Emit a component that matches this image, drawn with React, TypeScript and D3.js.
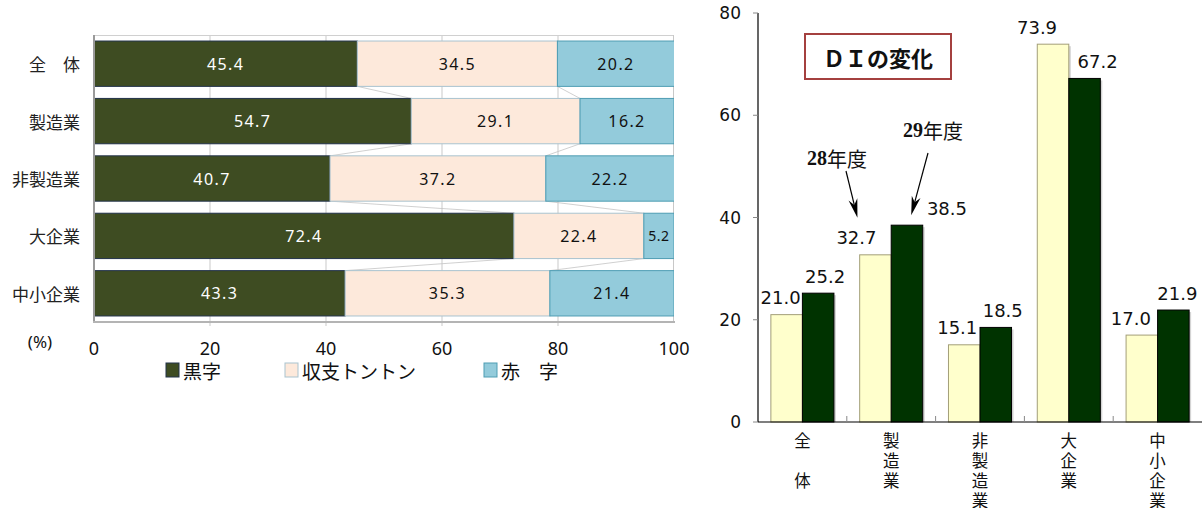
import React from "react";
import * as d3 from "d3";

// Profit / loss composition (%) by category
const categories = ["全　体", "製造業", "非製造業", "大企業", "中小企業"];
const profit = [45.4, 54.7, 40.7, 72.4, 43.3];
const breakeven = [34.5, 29.1, 37.2, 22.4, 35.3];
const loss = [20.2, 16.2, 22.2, 5.2, 21.4];
const segmentNames = ["黒字", "収支トントン", "赤　字"];
const pctTicks = [0, 20, 40, 60, 80, 100];

// DI by category, two fiscal years
const diCategories = ["全　体", "製造業", "非製造業", "大企業", "中小企業"];
const diYears = ["28年度", "29年度"];
const di28 = [21.0, 32.7, 15.1, 73.9, 17.0];
const di29 = [25.2, 38.5, 18.5, 67.2, 21.9];
const diTicks = [0, 20, 40, 60, 80];

const W = 1202;
const H = 508;
const CJK = "'Noto Sans CJK JP', 'Noto Sans', sans-serif";
const NUM = "'DejaVu Sans', Verdana, sans-serif";

const segFill = ["#3e4c22", "#fde9db", "#93cbdb"];
const segStroke = ["#22324a", "#a9c3cf", "#4e9db3"];
const segText = ["#ffffff", "#111111", "#111111"];

// horizontal nudges for DI value labels (light / dark bars)
const nudge28 = [-6, -19, -7, -16, -11];
const nudge29 = [7, 40, 7, 13, 4];

function StackedBars() {
  const x = d3.scaleLinear().domain([0, 100]).range([94, 674]);
  const y = d3
    .scaleBand<string>()
    .domain(categories)
    .range([35, 322])
    .paddingInner(0.21)
    .paddingOuter(0.105);
  const rows = categories.map((c, i) => ({
    cat: c,
    s0: profit[i],
    s1: breakeven[i],
    s2: loss[i],
  }));
  const stack = d3.stack<any>().keys(["s0", "s1", "s2"]);
  const series = stack(rows);
  const bw = y.bandwidth();

  // connector lines between neighbouring bars
  const connectors: { x1: number; y1: number; x2: number; y2: number }[] = [];
  for (let k = 0; k < 2; k++) {
    for (let i = 0; i < rows.length - 1; i++) {
      const a = series[k][i][1];
      const b = series[k][i + 1][1];
      connectors.push({
        x1: x(a),
        y1: (y(rows[i].cat) as number) + bw,
        x2: x(b),
        y2: y(rows[i + 1].cat) as number,
      });
    }
  }

  return (
    <g>
      <defs>
        <clipPath id="plotClip">
          <rect x={94} y={35} width={580} height={287} />
        </clipPath>
      </defs>
      {/* grid */}
      {pctTicks.slice(1, -1).map((t) => (
        <line key={t} x1={x(t)} x2={x(t)} y1={35} y2={326} stroke="#c9c9c9" strokeWidth={1} />
      ))}
      <line x1={94} x2={674} y1={35.5} y2={35.5} stroke="#d0d0d0" />
      <line x1={673.5} x2={673.5} y1={35} y2={322} stroke="#c8c8c8" />
      {connectors.map((c, i) => (
        <line key={i} x1={c.x1} y1={c.y1} x2={c.x2} y2={c.y2} stroke="#c4c4c4" strokeWidth={0.8} />
      ))}
      <g clipPath="url(#plotClip)">
        {series.map((s, k) =>
          s.map((d, i) => (
            <rect
              key={k + "-" + i}
              x={x(d[0])}
              y={y(rows[i].cat)}
              width={x(d[1]) - x(d[0])}
              height={bw}
              fill={segFill[k]}
              stroke={segStroke[k]}
              strokeWidth={1}
            />
          ))
        )}
      </g>
      {series.map((s, k) =>
        s.map((d, i) => (
          <text
            key={"t" + k + "-" + i}
            x={Math.min((x(d[0]) + x(d[1])) / 2, 663)}
            y={(y(rows[i].cat) as number) + bw / 2}
            textAnchor="middle"
            dominantBaseline="central"
            fontFamily="'Noto Sans', sans-serif"
            fontSize={k === 2 && d[1] - d[0] < 8 ? 14 : 16}
            letterSpacing={k === 2 && d[1] - d[0] < 8 ? 0.5 : 1.4}
            fill={segText[k]}
          >
            {(d[1] - d[0]).toFixed(1)}
          </text>
        ))
      )}
      <line x1={94} x2={94} y1={35} y2={323} stroke="#9a9a9a" strokeWidth={2} />
      <line x1={93} x2={675} y1={322} y2={322} stroke="#b4b4b4" strokeWidth={2} />
      {/* category labels */}
      {categories.map((c) => (
        <text
          key={c}
          x={80}
          y={(y(c) as number) + bw / 2}
          textAnchor="end"
          dominantBaseline="central"
          fontFamily={CJK}
          fontSize={17}
          fill="#222"
        >
          {c}
        </text>
      ))}
      {/* x tick labels */}
      {pctTicks.map((t) => (
        <text
          key={t}
          x={x(t)}
          y={348}
          textAnchor="middle"
          dominantBaseline="central"
          fontFamily="'Noto Sans', sans-serif"
          fontSize={18}
          fill="#111"
        >
          {t}
        </text>
      ))}
      <text x={40} y={341} textAnchor="middle" dominantBaseline="central" fontFamily="'Noto Sans', sans-serif" fontSize={17} fill="#111">
        (%)
      </text>
      {/* legend */}
      {segmentNames.map((n, k) => {
        const lx = [166, 285, 484][k];
        return (
          <g key={n}>
            <rect x={lx} y={363} width={13} height={14} fill={segFill[k]} stroke={segStroke[k]} />
            <text x={lx + 17} y={370} dominantBaseline="central" fontFamily={CJK} fontSize={19} fill="#111">
              {n}
            </text>
          </g>
        );
      })}
    </g>
  );
}

function Arrow({ x1, y1, x2, y2 }: { x1: number; y1: number; x2: number; y2: number }) {
  const ang = Math.atan2(y2 - y1, x2 - x1);
  const len = 19;
  const half = 4.5;
  const bx = x2 - len * Math.cos(ang);
  const by = y2 - len * Math.sin(ang);
  const px = -Math.sin(ang) * half;
  const py = Math.cos(ang) * half;
  const notchX = x2 - len * 0.7 * Math.cos(ang);
  const notchY = y2 - len * 0.7 * Math.sin(ang);
  return (
    <g>
      <line x1={x1} y1={y1} x2={notchX} y2={notchY} stroke="#000" strokeWidth={1.2} />
      <path d={`M${x2},${y2} L${bx + px},${by + py} L${notchX},${notchY} L${bx - px},${by - py} Z`} fill="#000" />
    </g>
  );
}

function DIChart() {
  const yR = d3.scaleLinear().domain([0, 80]).range([422, 13]);
  const xR = d3
    .scaleBand<string>()
    .domain(diCategories)
    .range([758, 1202])
    .paddingInner(0.29)
    .paddingOuter(0.145);
  const xSub = d3.scaleBand<string>().domain(diYears).range([0, xR.bandwidth()]);
  const step = xR.step();
  const sw = xSub.bandwidth();
  const vals = [di28, di29];
  const fills = ["#ffffcc", "#003300"];
  const strokes = ["#a39f78", "#000000"];
  const nudges = [nudge28, nudge29];

  const manuX = xR(diCategories[1]) as number;
  const lightX = manuX + (xSub(diYears[0]) as number) + sw / 2;
  const darkX = manuX + (xSub(diYears[1]) as number);

  return (
    <g>
      {/* bars */}
      {vals.map((arr, s) =>
        arr.map((v, i) => {
          const bx = (xR(diCategories[i]) as number) + (xSub(diYears[s]) as number);
          return (
            <g key={s + "-" + i}>
              <rect x={bx + 2} y={yR(v) + 2} width={sw} height={yR(0) - yR(v) - 2} fill="#d4d4d4" />
              <rect x={bx} y={yR(v)} width={sw} height={yR(0) - yR(v)} fill={fills[s]} stroke={strokes[s]} strokeWidth={1} />
            </g>
          );
        })
      )}
      {/* axes */}
      <line x1={758} x2={758} y1={13} y2={422} stroke="#000" strokeWidth={1.2} />
      <line x1={758} x2={1202} y1={422} y2={422} stroke="#000" strokeWidth={1.2} />
      {diTicks.map((t) => (
        <g key={t}>
          <line x1={753} x2={758} y1={yR(t)} y2={yR(t)} stroke="#888" />
          <text x={741} y={yR(t)} textAnchor="end" dominantBaseline="central" fontFamily={NUM} fontSize={17} fill="#111">
            {t}
          </text>
        </g>
      ))}
      {diCategories.slice(1).map((c, i) => (
        <line key={c} x1={758 + step * (i + 1)} x2={758 + step * (i + 1)} y1={416} y2={422} stroke="#888" />
      ))}
      {/* value labels */}
      {vals.map((arr, s) =>
        arr.map((v, i) => {
          const cx = (xR(diCategories[i]) as number) + (xSub(diYears[s]) as number) + sw / 2 + nudges[s][i];
          return (
            <text
              key={"v" + s + "-" + i}
              x={cx}
              y={yR(v) - 17}
              textAnchor="middle"
              dominantBaseline="central"
              fontFamily={NUM}
              fontSize={18}
              fill="#111"
            >
              {v.toFixed(1)}
            </text>
          );
        })
      )}
      {/* vertical category labels */}
      {diCategories.map((c) => {
        const cx = (xR(c) as number) + xR.bandwidth() / 2;
        return Array.from(c).map((ch, j) => (
          <text
            key={c + j}
            x={cx}
            y={440 + j * 20}
            textAnchor="middle"
            dominantBaseline="central"
            fontFamily={CJK}
            fontSize={16.5}
            fill="#111"
          >
            {ch}
          </text>
        ));
      })}
      {/* title box */}
      <rect x={805} y={34} width={146} height={45} fill="#fff" stroke="#a4403f" strokeWidth={2} />
      <text x={878} y={57} textAnchor="middle" dominantBaseline="central" fontFamily={CJK} fontWeight="bold" fontSize={22} fill="#111">
        ＤＩの変化
      </text>
      {/* year annotations */}
      <text x={807} y={158} dominantBaseline="central" fontSize={20} fill="#111">
        <tspan fontFamily="'Liberation Serif', serif" fontWeight="bold">28</tspan>
        <tspan fontFamily={CJK}>年度</tspan>
      </text>
      <text x={903} y={130} dominantBaseline="central" fontSize={20} fill="#111">
        <tspan fontFamily="'Liberation Serif', serif" fontWeight="bold">29</tspan>
        <tspan fontFamily={CJK}>年度</tspan>
      </text>
      <Arrow x1={846} y1={171} x2={lightX - 18} y2={yR(di28[1]) - 37} />
      <Arrow x1={928} y1={153} x2={darkX + 20} y2={yR(di29[1]) - 10} />
    </g>
  );
}

export default function App() {
  return (
    <svg
      width={W}
      height={H}
      viewBox={`0 0 ${W} ${H}`}
      style={{ position: "absolute", left: 0, top: 0, background: "#fff" }}
    >
      <rect width={W} height={H} fill="#fff" />
      <StackedBars />
      <DIChart />
    </svg>
  );
}
